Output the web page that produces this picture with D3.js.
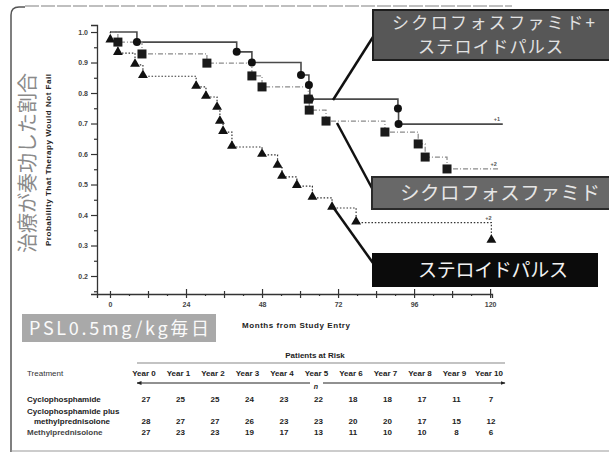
<!DOCTYPE html>
<html>
<head>
<meta charset="utf-8">
<script src="https://cdn.jsdelivr.net/npm/d3@7"></script>
<style>
  body { margin: 0; background: #fff; }
  svg { display: block; font-family: "Liberation Sans", Arial, sans-serif; }
  .jp { font-family: "Noto Sans CJK JP", sans-serif; }
</style>
</head>
<body>
<div id="chart"></div>
<script>
// survival steps: [month, probability]
const cycMethyl = [[0,1.0],[8.5,0.967],[40,0.935],[44.8,0.9],[60.3,0.859],[62.8,0.826],[63.1,0.78],[90.9,0.749],[91.1,0.698]];
const cycMethylEnd = 124;
const cyclo = [[0,1.0],[2.5,0.967],[10.1,0.928],[30.6,0.898],[44.8,0.856],[48,0.82],[62.6,0.78],[62.9,0.744],[68.2,0.708],[86.8,0.672],[97.3,0.633],[99.5,0.59],[106.4,0.551]];
const cycloEnd = 123;
const methyl = [[0,1.0],[0.1,0.972],[2.5,0.931],[7.9,0.892],[10.4,0.855],[27.2,0.82],[30.3,0.787],[33.8,0.751],[34.7,0.705],[35.7,0.672],[38.5,0.623],[48,0.597],[52.9,0.561],[54.3,0.525],[59,0.495],[63.9,0.456],[70.1,0.423],[77.7,0.375],[120.4,0.315]];
const methylEnd = 120.4;
const censorLabels = ["+1", "+2", "+2"];

const xTickValues = [0,12,24,36,48,60,72,84,96,108,120];
const yTickValues = [0.2,0.3,0.4,0.5,0.6,0.7,0.8,0.9,1.0];

const years = ["Year 0","Year 1","Year 2","Year 3","Year 4","Year 5","Year 6","Year 7","Year 8","Year 9","Year 10"];
const riskCyclo = [27,25,25,24,23,22,18,18,17,11,7];
const riskCycMethyl = [28,27,27,26,23,23,20,20,17,15,12];
const riskMethyl = [27,23,23,19,17,13,11,10,10,8,6];

const width = 609, height = 455;

const svg = d3.select('#chart').append('svg')
  .attr('width', width)
  .attr('height', height);

// page frame from the scan
svg.append('path')
  .attr('d', 'M11,452 V15 Q11,7 19,7 H25')
  .attr('fill', 'none').attr('stroke', '#555').attr('stroke-width', 1.5);
svg.append('line')
  .attr('x1', 25).attr('x2', 512).attr('y1', 6).attr('y2', 6)
  .attr('stroke', '#aaa').attr('stroke-width', 1.5).attr('stroke-dasharray', '14,2');
svg.append('line')
  .attr('x1', 11).attr('x2', 609).attr('y1', 451).attr('y2', 451)
  .attr('stroke', '#999').attr('stroke-width', 1);

const x = d3.scaleLinear().domain([-4.1, 120.6]).range([97, 492]);
const y = d3.scaleLinear().domain([0.141, 1.023]).range([294, 25]);

// axes
const xAxis = d3.axisBottom(x)
  .tickValues(xTickValues)
  .tickSize(4)
  .tickPadding(4)
  .tickFormat(d => d % 24 === 0 ? d : '');

const xAxisG = svg.append('g')
  .attr('transform', 'translate(0,294)')
  .call(xAxis);
xAxisG.selectAll('.tick line').attr('y1', -3);
xAxisG.selectAll('.tick').filter(d => d > 0 && d % 24 === 0).select('line').attr('y1', -5);

const xMinor = d3.axisBottom(x)
  .tickValues(d3.range(6, 120, 12))
  .tickSize(2)
  .tickFormat('');
svg.append('g').attr('transform', 'translate(0,294)').call(xMinor)
  .call(g => g.select('.domain').remove());

const yAxis = d3.axisLeft(y)
  .tickValues(yTickValues)
  .tickSize(6)
  .tickPadding(3)
  .tickFormat(d3.format('.1f'));
svg.append('g')
  .attr('transform', 'translate(97,0)')
  .call(yAxis);

const yMinor = d3.axisLeft(y)
  .tickValues(d3.range(0.15, 1.0, 0.1))
  .tickSize(3)
  .tickFormat('');
svg.append('g').attr('transform', 'translate(97,0)').call(yMinor)
  .call(g => g.select('.domain').remove());

svg.selectAll('.domain').attr('stroke', '#333').attr('stroke-width', 1.3);
svg.selectAll('.tick line').attr('stroke', '#333').attr('stroke-width', 1.2);
svg.selectAll('.tick text')
  .attr('font-size', 7)
  .attr('font-weight', 'bold')
  .attr('fill', '#444')
  .attr('font-family', '"Liberation Sans", Arial, sans-serif');

// axis titles
svg.append('text')
  .attr('transform', 'translate(51,160) rotate(-90)')
  .attr('text-anchor', 'middle')
  .attr('font-size', 8)
  .attr('font-weight', 'bold')
  .attr('fill', '#222')
  .attr('textLength', 172)
  .text('Probability That Therapy Would Not Fail');

svg.append('text')
  .attr('class', 'jp')
  .attr('transform', 'translate(35,163) rotate(-90)')
  .attr('text-anchor', 'middle')
  .attr('font-size', 20)
  .attr('fill', '#8a8a8a')
  .attr('textLength', 180)
  .text('治療が奏功した割合');

svg.append('text')
  .attr('x', 242).attr('y', 328)
  .attr('font-size', 8)
  .attr('font-weight', 'bold')
  .attr('fill', '#222')
  .attr('textLength', 108)
  .text('Months from Study Entry');

// step curves
const line = d3.line()
  .x(d => x(d[0]))
  .y(d => y(d[1]))
  .curve(d3.curveStepAfter);

const series = [
  { data: cycMethyl, end: cycMethylEnd, stroke: '#4a4a4a', width: 1.6, dash: null },
  { data: cyclo, end: cycloEnd, stroke: '#8a8a8a', width: 1.2, dash: '5,2,1,2' },
  { data: methyl, end: methylEnd, stroke: '#333', width: 1.2, dash: '1.5,1.8' }
];

series.forEach((s, i) => {
  const last = s.data[s.data.length - 1];
  const pts = s.data.concat([[s.end, last[1]]]);
  svg.append('path')
    .attr('d', line(pts))
    .attr('fill', 'none')
    .attr('stroke', s.stroke)
    .attr('stroke-width', s.width)
    .attr('stroke-dasharray', s.dash);
  svg.append('text')
    .attr('x', x(s.end) - (i === 2 ? 6 : 9))
    .attr('y', y(i === 2 ? s.data[s.data.length - 2][1] : last[1]) - 3)
    .attr('font-size', 5.5)
    .attr('font-weight', 'bold')
    .attr('fill', '#555')
    .text(censorLabels[i]);
});

// markers
svg.append('g').selectAll('path')
  .data(methyl.slice(1))
  .join('path')
  .attr('transform', d => `translate(${x(d[0])},${y(d[1]) - 1})`)
  .attr('d', d3.symbol(d3.symbolTriangle, 42))
  .attr('fill', '#111');

svg.append('g').selectAll('circle')
  .data(cycMethyl.slice(1))
  .join('circle')
  .attr('cx', d => x(d[0]))
  .attr('cy', d => y(d[1]))
  .attr('r', 4)
  .attr('fill', '#111');

svg.append('g').selectAll('rect')
  .data(cyclo.slice(1))
  .join('rect')
  .attr('x', d => x(d[0]) - 4.5)
  .attr('y', d => y(d[1]) - 4.5)
  .attr('width', 9)
  .attr('height', 9)
  .attr('fill', '#1a1a1a');

// callout boxes
const leader = (x1, y1, x2, y2) => svg.append('line')
  .attr('x1', x1).attr('y1', y1).attr('x2', x2).attr('y2', y2)
  .attr('stroke', '#111').attr('stroke-width', 2.5);
leader(333, 100, 373, 37);
leader(337, 123, 373, 190);
leader(333, 207, 373, 263);

svg.append('rect').attr('x', 373).attr('y', 10).attr('width', 245).attr('height', 50)
  .attr('fill', '#575757').attr('stroke', '#1e1e1e').attr('stroke-width', 2);
svg.append('text').attr('class', 'jp').attr('x', 392).attr('y', 29)
  .attr('font-size', 17).attr('fill', '#e2e2e2').attr('textLength', 203)
  .text('シクロフォスファミド+');
svg.append('text').attr('class', 'jp').attr('x', 418).attr('y', 53)
  .attr('font-size', 17).attr('fill', '#e2e2e2').attr('textLength', 145)
  .text('ステロイドパルス');

svg.append('rect').attr('x', 372).attr('y', 177).attr('width', 245).attr('height', 32)
  .attr('fill', '#686868').attr('stroke', '#2a2a2a').attr('stroke-width', 2);
svg.append('text').attr('class', 'jp').attr('x', 400).attr('y', 200)
  .attr('font-size', 19.5).attr('fill', '#e6e6e6').attr('textLength', 200)
  .text('シクロフォスファミド');

svg.append('rect').attr('x', 372).attr('y', 253).attr('width', 226).attr('height', 34)
  .attr('fill', '#0b0b0b');
svg.append('text').attr('class', 'jp').attr('x', 418).attr('y', 277)
  .attr('font-size', 19).attr('fill', '#f2f2f2').attr('textLength', 150)
  .text('ステロイドパルス');

svg.append('rect').attr('x', 22).attr('y', 314).attr('width', 194).attr('height', 28)
  .attr('fill', '#a9a9a9');
svg.append('text').attr('class', 'jp').attr('x', 29).attr('y', 335)
  .attr('font-size', 18).attr('fill', '#fafafa').attr('textLength', 180)
  .text('PSL0.5mg/kg毎日');

// patients at risk table
const col = d3.scalePoint().domain(years).range([144, 489]);
const tbl = svg.append('g')
  .attr('font-size', 8)
  .attr('font-weight', 'bold')
  .attr('fill', '#222');

tbl.append('text').attr('x', 315).attr('y', 358).attr('text-anchor', 'middle')
  .text('Patients at Risk');
tbl.append('line').attr('x1', 137).attr('x2', 505).attr('y1', 363).attr('y2', 363)
  .attr('stroke', '#888').attr('stroke-width', 1.2);
tbl.append('text').attr('x', 27).attr('y', 376).attr('font-weight', 'normal').attr('fill', '#333')
  .text('Treatment');
tbl.selectAll('.yr').data(years).join('text')
  .attr('class', 'yr')
  .attr('x', d => col(d))
  .attr('y', 376)
  .attr('text-anchor', 'middle')
  .text(d => d);

// arrow with n
svg.append('defs').append('marker')
  .attr('id', 'ah').attr('viewBox', '0 0 10 10').attr('refX', 9).attr('refY', 5)
  .attr('markerWidth', 5).attr('markerHeight', 5).attr('orient', 'auto-start-reverse')
  .append('path').attr('d', 'M0,1 L10,5 L0,9 Z').attr('fill', '#222');
tbl.append('line').attr('x1', 310).attr('x2', 137).attr('y1', 383).attr('y2', 383)
  .attr('stroke', '#222').attr('stroke-width', 1).attr('marker-end', 'url(#ah)');
tbl.append('line').attr('x1', 323).attr('x2', 505).attr('y1', 383).attr('y2', 383)
  .attr('stroke', '#222').attr('stroke-width', 1).attr('marker-end', 'url(#ah)');
tbl.append('text').attr('x', 316).attr('y', 389).attr('text-anchor', 'middle')
  .attr('font-style', 'italic').attr('font-size', 7).text('n');

tbl.append('text').attr('x', 27).attr('y', 402).text('Cyclophosphamide');
tbl.append('text').attr('x', 27).attr('y', 414).text('Cyclophosphamide plus');
tbl.append('text').attr('x', 34).attr('y', 424).text('methylprednisolone');
tbl.append('text').attr('x', 27).attr('y', 435).attr('fill', '#444').text('Methylprednisolone');

const rows = [[riskCyclo, 402], [riskCycMethyl, 424], [riskMethyl, 435]];
rows.forEach(([vals, yy]) => {
  tbl.append('g').selectAll('text').data(vals).join('text')
    .attr('x', (d, i) => col(years[i]) + 2)
    .attr('y', yy)
    .attr('text-anchor', 'middle')
    .text(d => d);
});
</script>
</body>
</html>
